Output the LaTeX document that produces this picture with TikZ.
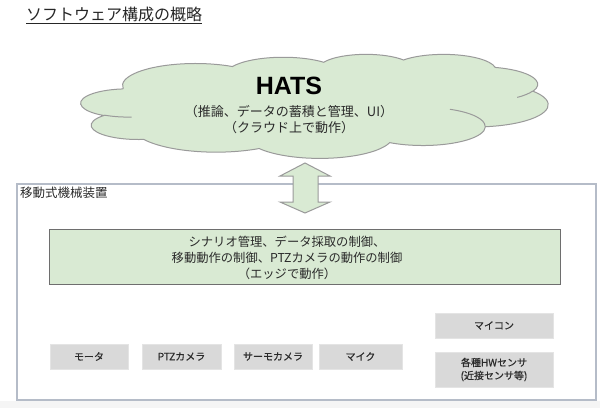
\documentclass[tikz,border=0pt]{standalone}
\usepackage{fontspec}
\setmainfont{Liberation Sans}
\newfontfamily\jp{Noto Sans CJK JP}
\newfontfamily\jpm[FakeBold=0.6]{Noto Sans CJK JP}
\definecolor{cloudfill}{HTML}{D9EAD3}
\definecolor{cloudline}{HTML}{9A9A9A}
\definecolor{boxline}{HTML}{B5BCC8}
\definecolor{grayfill}{HTML}{D9D9D9}
\definecolor{edgeline}{HTML}{6E6E6E}
\definecolor{txt}{HTML}{2A2A2A}
% elliptical arc in the DrawingML manner (visual angles -> parametric)
\newcommand\cloudarc[5]{% macro, wR, hR, stAng, swAng
  \pgfmathsetmacro\cA{atan2((#2)*sin(#4),(#3)*cos(#4))}%
  \pgfmathsetmacro\cB{atan2((#2)*sin((#4)+(#5)),(#3)*cos((#4)+(#5)))}%
  \pgfmathsetmacro\cD{\cB-\cA}%
  \pgfmathsetmacro\cB{\cB + ((#5)>0)*(\cD<0)*360 - ((#5)<0)*(\cD>0)*360}%
  \xdef#1{arc[start angle=\cA, end angle=\cB, x radius=#2, y radius=#3]}%
}
\tikzset{
  hwbox/.style={fill=grayfill, draw=grayfill!70!white, line width=0.6pt, inner sep=0pt,
    text=txt, font=\jpm\fontsize{10}{12}\selectfont, align=center},
  cloudtxt/.style={text=txt, font=\jp\fontsize{13}{15}\selectfont, inner sep=0pt},
}
\begin{document}
\cloudarc\arcA{675.3}{919.0}{-190.4875}{123.7805}%
\cloudarc\arcB{533.3}{726.7}{-144.1024}{89.9452}%
\cloudarc\arcC{436.5}{594.5}{-145.8079}{99.7230}%
\cloudarc\arcD{485.7}{659.5}{-130.9861}{117.2417}%
\cloudarc\arcE{533.3}{727.3}{-78.7089}{109.0269}%
\cloudarc\arcF{677.5}{922.0}{-46.2673}{130.2690}%
\cloudarc\arcG{578.5}{786.7}{0.6250}{114.0333}%
\cloudarc\arcH{675.2}{921.5}{22.4516}{115.1726}%
\cloudarc\arcI{772.0}{1054.3}{66.2426}{75.7110}%
\cloudarc\arcJ{436.0}{591.8}{-274.9421}{146.7356}%
\cloudarc\arcK{434.5}{594.5}{-246.8285}{152.5189}%
\cloudarc\inA{434.5}{594.5}{86.7420}{26.4295}%
\cloudarc\inB{578.5}{786.7}{-70.2924}{70.9174}%
\cloudarc\inC{533.3}{727.3}{30.3180}{27.7515}%
\begin{tikzpicture}[x=1pt,y=-1pt]
\useasboundingbox (0,0) rectangle (600,408);
\fill[white] (0,0) rectangle (600,408);
\fill[black!4] (0,401) rectangle (600,408);
% title
\node[anchor=west, inner sep=0pt, text=black!85, font=\jp\fontsize{16}{18}\selectfont] (title) at (26,15) {\underline{ソフトウェア構成の概略}};
% cloud
\begin{scope}[shift={(81,54)}, x=0.108102pt, y=-0.0240741pt]
  \filldraw[fill=cloudfill, draw=cloudline, line width=1pt]
    (390,1437) \arcA \arcB \arcC \arcD \arcE \arcF \arcG \arcH \arcI \arcJ \arcK -- cycle;
  \draw[cloudline, line width=1pt]
    (469.3,2617.7) \inA
    (3412.9,2295.4) \inB
    (4179.8,1535.4) \inC;
  \coordinate (cloud) at (2160,2160);
\end{scope}
\node[inner sep=0pt, font=\bfseries\fontsize{25}{28}\selectfont] (hats) at (289,86) {HATS};
\node[cloudtxt] (hats2) at (289,112) {（推論、データの蓄積と管理、UI）};
\node[cloudtxt] (hats3) at (289,128) {（クラウド上で動作）};
% device frame
\node[draw=boxline, line width=1.5pt, anchor=north west, minimum width=579pt, minimum height=216pt, inner sep=0pt] (device) at (16,183) {};
\node[anchor=west, inner sep=0pt, text=txt, font=\jp\fontsize{12.5}{14}\selectfont] (devlabel) at (20,193) {移動式機械装置};
% double arrow
\filldraw[fill=cloudfill, draw=cloudline, line width=1pt, line join=miter]
  (305,163) -- (330,176) -- (318,176) -- (318,202) -- (330,202) -- (305,213)
  -- (280,202) -- (293,202) -- (293,176) -- (280,176) -- cycle;
% edge box
\node[draw=edgeline, line width=1pt, fill=cloudfill, minimum width=511pt, minimum height=55pt, inner sep=0pt] (edge) at (304.5,257) {};
\node[inner sep=0pt, text=txt, font=\jp\fontsize{12.3}{16}\selectfont, align=center] (edgetxt) at (287,258)
  {シナリオ管理、データ採取の制御、\\移動動作の制御、PTZカメラの動作の制御\\（エッジで動作）};
% hardware boxes
\node[hwbox, minimum width=78pt, minimum height=25pt] (motor) at (89,356.5) {モータ};
\node[hwbox, minimum width=79pt, minimum height=25pt] (ptz) at (181.5,356.5) {PTZカメラ};
\node[hwbox, minimum width=78pt, minimum height=25pt] (thermo) at (273,356.5) {サーモカメラ};
\node[hwbox, minimum width=83pt, minimum height=25pt] (mic) at (360.5,356.5) {マイク};
\node[hwbox, minimum width=118pt, minimum height=25pt] (mcu) at (494,325.5) {マイコン};
\node[hwbox, minimum width=118pt, minimum height=35pt, font=\jpm\fontsize{10}{13}\selectfont] (sensor) at (494,369.5) {各種HWセンサ\\(近接センサ等)};
\end{tikzpicture}
\end{document}
